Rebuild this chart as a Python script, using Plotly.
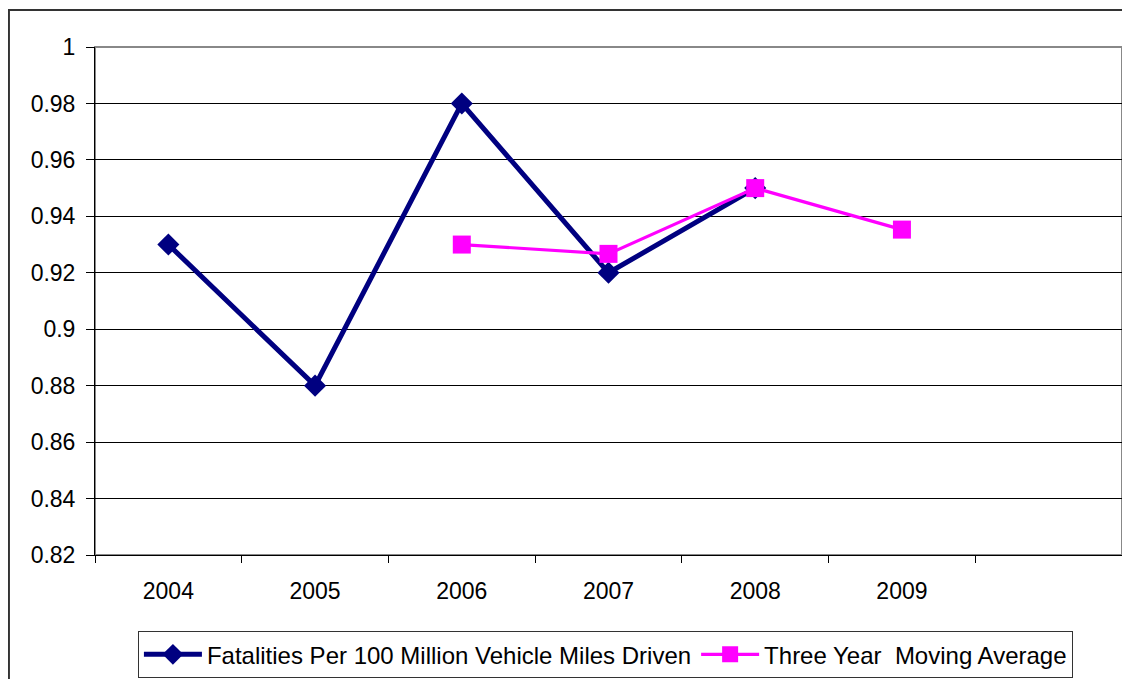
import plotly.graph_objects as go

# data
years = ["2004", "2005", "2006", "2007", "2008", "2009", " "]
fatalities = [0.93, 0.88, 0.98, 0.92, 0.95, None, None]
moving_avg = [None, None, 0.93, 0.9267, 0.95, 0.9353, None]
y_ticks = [0.82, 0.84, 0.86, 0.88, 0.9, 0.92, 0.94, 0.96, 0.98, 1.0]
y_tick_text = ["0.82", "0.84", "0.86", "0.88", "0.9", "0.92", "0.94", "0.96", "0.98", "1"]

FONT = "Liberation Sans, Arial, sans-serif"

fig = go.Figure()

fig.add_trace(go.Scatter(
    x=years, y=fatalities,
    mode="lines+markers",
    name="Fatalities Per 100 Million Vehicle Miles Driven",
    line=dict(color="#000080", width=5),
    marker=dict(symbol="diamond", size=17, color="#000080"),
    connectgaps=False,
))

fig.add_trace(go.Scatter(
    x=years, y=moving_avg,
    mode="lines+markers",
    name="Three Year  Moving Average",
    line=dict(color="#FF00FF", width=3.2),
    marker=dict(symbol="square", size=18, color="#FF00FF"),
    connectgaps=False,
))

# outer chart border and gray plot-area frame
fig.add_shape(type="rect", xref="paper", yref="paper",
              x0=-0.0838, x1=1.05, y0=-0.4, y1=1.0728,
              line=dict(color="#333333", width=2), layer="below")
fig.add_shape(type="rect", xref="paper", yref="paper",
              x0=0, x1=1, y0=0, y1=1,
              line=dict(color="#888888", width=2), layer="below")

fig.update_xaxes(
    type="category",
    categoryorder="array", categoryarray=years,
    range=[-0.5, 6.5],
    tickson="boundaries",
    ticks="outside", ticklen=7, tickcolor="black", tickwidth=1,
    showline=True, linecolor="black", linewidth=1,
    showgrid=False, zeroline=False,
    tickfont=dict(family=FONT, size=23, color="black"),
    ticklabelstandoff=15,
    automargin=False,
)

fig.update_yaxes(
    range=[0.82, 1.0],
    tickvals=y_ticks, ticktext=y_tick_text,
    ticks="outside", ticklen=8, tickcolor="black", tickwidth=1,
    showline=True, linecolor="black", linewidth=1,
    showgrid=True, gridcolor="black", gridwidth=1,
    zeroline=False,
    tickfont=dict(family=FONT, size=23, color="black"),
    ticklabelstandoff=6,
    automargin=False,
)

# the page adds an 8px body margin, so margins are offset by that amount
fig.update_layout(
    width=1130, height=679,
    margin=dict(l=87, r=16, t=39, b=132, autoexpand=False),
    paper_bgcolor="white",
    plot_bgcolor="white",
    font=dict(family=FONT, color="black"),
    showlegend=True,
    legend=dict(
        orientation="h",
        x=0.497, xanchor="center",
        y=-0.15, yanchor="top",
        bordercolor="#333333", borderwidth=1,
        bgcolor="white",
        font=dict(family=FONT, size=24, color="black"),
        itemwidth=58,
    ),
)

fig.write_html("out.html")
